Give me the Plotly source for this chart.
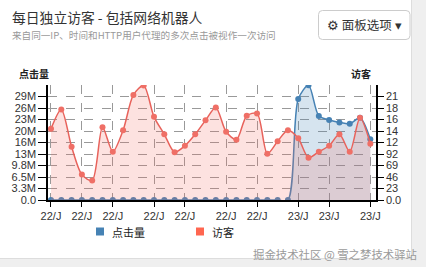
import plotly.graph_objects as go

# ---------------- data ----------------
x_index = list(range(32))
x_tick_pos = [0, 3, 6, 10, 13, 17, 20, 24, 27, 31]
x_tick_labels = ["22/J", "22/J", "22/J", "22/J", "22/J", "22/J", "22/J", "23/J", "23/J", "23/J"]

clicks = [0] * 24 + [28.6e6, 32.5e6, 23.8e6, 22.7e6, 22.0e6, 21.6e6, 23.3e6, 17.2e6]
visitors = [143, 182, 107, 51, 39, 146, 97, 140, 211, 230, 167, 132, 96, 109, 132, 160,
            186, 137, 121, 169, 174, 93, 118, 140, 124, 85, 97, 109, 132, 97, 165, 113]

left_tick_vals = [i * 3.26e6 for i in range(10)]
left_tick_labels = ["0.0", "3.3M", "6.5M", "9.8M", "13M", "16M", "20M", "23M", "26M", "29M"]
right_tick_vals = [i * 23.1 for i in range(10)]
right_tick_labels = ["0.0", "23", "46", "69", "92", "12", "14", "16", "18", "21"]

series_names = ["点击量", "访客"]
legend_colors = ["#4682b4", "#ff6650"]

# ---------------- layout helpers ----------------
W, H = 426, 267
L, R, T, B = 48, 376, 85, 200


def px(x):
    return (x - L) / (R - L)


def py(y):
    return (B - y) / (B - T)


BLUE = "#4682b4"
RED_LINE = "#e8625b"
RED_MARK = "#ef6f66"
FONT = "Noto Sans CJK SC, Liberation Sans, sans-serif"

fig = go.Figure()

fig.add_trace(go.Scatter(
    x=x_index, y=clicks, name=series_names[0], mode="lines+markers",
    line=dict(color=BLUE, width=1.5, shape="spline", smoothing=0.8),
    marker=dict(color=BLUE, size=6),
    fill="tozeroy", fillcolor="rgba(70,130,180,0.22)",
    yaxis="y", showlegend=False, hoverinfo="skip"))

fig.add_trace(go.Scatter(
    x=x_index, y=visitors, name=series_names[1], mode="lines+markers",
    line=dict(color=RED_LINE, width=1.5, shape="spline", smoothing=0.8),
    marker=dict(color=RED_MARK, size=6),
    fill="tozeroy", fillcolor="rgba(245,110,100,0.2)",
    yaxis="y2", showlegend=False, hoverinfo="skip"))

shapes = [
    # card
    dict(type="rect", xref="paper", yref="paper", layer="below",
         x0=px(-2), x1=px(411.5), y0=py(258.5), y1=py(-2),
         fillcolor="white", line=dict(color="#dddddd", width=1)),
]

# rounded button
bx0, bx1, by0, by1, r = 318.5, 410, 10.5, 39.5, 4
path = (f"M {px(bx0 + r)},{py(by0)} L {px(bx1 - r)},{py(by0)} "
        f"Q {px(bx1)},{py(by0)} {px(bx1)},{py(by0 + r)} "
        f"L {px(bx1)},{py(by1 - r)} Q {px(bx1)},{py(by1)} {px(bx1 - r)},{py(by1)} "
        f"L {px(bx0 + r)},{py(by1)} Q {px(bx0)},{py(by1)} {px(bx0)},{py(by1 - r)} "
        f"L {px(bx0)},{py(by0 + r)} Q {px(bx0)},{py(by0)} {px(bx0 + r)},{py(by0)} Z")
shapes.append(dict(type="path", xref="paper", yref="paper", path=path,
                   line=dict(color="#cccccc", width=1), fillcolor="white", layer="below"))

annotations = [
    dict(text="每日独立访客 - 包括网络机器人", x=px(10), y=py(17), xanchor="left", yanchor="middle",
         font=dict(size=13.8, color="#333333", family=FONT)),
    dict(text="来自同一IP、时间和HTTP用户代理的多次点击被视作一次访问", x=px(10), y=py(35),
         xanchor="left", yanchor="middle", font=dict(size=9.6, color="#999999", family=FONT)),
    dict(text="⚙ 面板选项 ▾", x=px(364), y=py(25), xanchor="center", yanchor="middle",
         font=dict(size=12.5, color="#333333", family=FONT)),
    dict(text="<b>点击量</b>", x=px(34), y=py(73), xanchor="center", yanchor="middle",
         font=dict(size=10, color="#222222", family=FONT)),
    dict(text="<b>访客</b>", x=px(361), y=py(73), xanchor="center", yanchor="middle",
         font=dict(size=10, color="#222222", family=FONT)),
    dict(text="掘金技术社区 @ 雪之梦技术驿站", x=px(419), y=py(254), xanchor="right", yanchor="middle",
         font=dict(size=11.4, color="#9a9a9a", family=FONT)),
]

# manual legend: colour squares + labels
legend_x = [96, 196]
for name, col, lx in zip(series_names, legend_colors, legend_x):
    shapes.append(dict(type="rect", xref="paper", yref="paper", layer="above",
                       x0=px(lx), x1=px(lx + 8), y0=py(235.5), y1=py(227.5),
                       fillcolor=col, line=dict(width=0)))
    annotations.append(dict(text=name, x=px(lx + 14), y=py(232), xanchor="left", yanchor="middle",
                            font=dict(size=11, color="#222222", family=FONT)))

for a in annotations:
    a.update(xref="paper", yref="paper", showarrow=False)

fig.update_layout(
    width=W, height=H,
    margin=dict(l=L, r=W - R, t=T, b=H - B, pad=0),
    paper_bgcolor="#efefef", plot_bgcolor="white",
    font=dict(family="Liberation Sans, Arial, sans-serif", size=11, color="#333333"),
    shapes=shapes, annotations=annotations, showlegend=False,
    xaxis=dict(range=[-0.29, 31.55], tickmode="array", tickvals=x_tick_pos, ticktext=x_tick_labels,
               showgrid=True, gridcolor="#999999", griddash="dash", gridwidth=1,
               showline=True, linecolor="black", linewidth=1.5, ticks="outside", ticklen=5,
               tickcolor="black", zeroline=False, fixedrange=True),
    yaxis=dict(range=[0, 32.6e6], tickmode="array", tickvals=left_tick_vals, ticktext=left_tick_labels,
               showgrid=True, gridcolor="#999999", griddash="dash", gridwidth=1,
               showline=True, linecolor="black", linewidth=1.5, ticks="outside", ticklen=8,
               tickcolor="black", zeroline=False),
    yaxis2=dict(range=[0, 231], tickmode="array", tickvals=right_tick_vals, ticktext=right_tick_labels,
                overlaying="y", side="right", showgrid=False, showline=True, linecolor="black",
                linewidth=1.5, ticks="outside", ticklen=6, tickcolor="black", zeroline=False),
)

fig.write_html("out.html")
